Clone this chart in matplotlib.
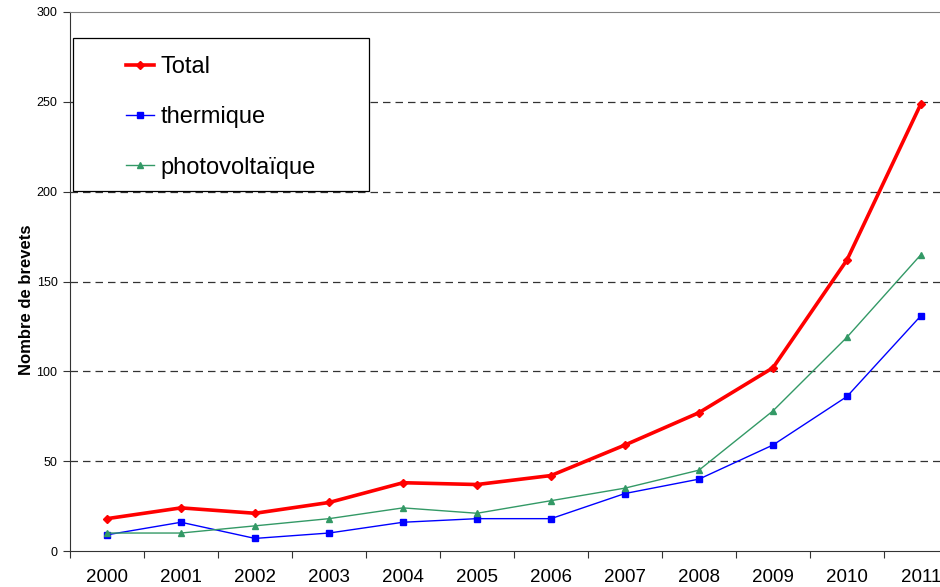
import matplotlib.pyplot as plt
from matplotlib.patches import Rectangle
import numpy as np

plt.rcParams['font.family'] = ['Liberation Sans', 'DejaVu Sans']

# data
years = ['2000', '2001', '2002', '2003', '2004', '2005',
         '2006', '2007', '2008', '2009', '2010', '2011']
total = [18, 24, 21, 27, 38, 37, 42, 59, 77, 102, 162, 249]
thermique = [9, 16, 7, 10, 16, 18, 18, 32, 40, 59, 86, 131]
photovoltaique = [10, 10, 14, 18, 24, 21, 28, 35, 45, 78, 119, 165]

W, H = 940, 587
fig = plt.figure(figsize=(W / 100, H / 100), dpi=100)
# plot area runs past the right edge of the picture, as in the original
ax = fig.add_axes([70 / W, 36 / H, 888 / W, 539 / H])

x = np.arange(len(years))
ax.plot(x, total, color='#FF0000', lw=2.6, marker='D', ms=4.5, label='Total', zorder=4)
ax.plot(x, thermique, color='#0000FF', lw=1, marker='s', ms=4.5, label='thermique', zorder=3)
ax.plot(x, photovoltaique, color='#339966', lw=1, marker='^', ms=4.5,
        label='photovoltaïque', zorder=3)

ax.set_xlim(-0.5, len(years) - 0.5)
ax.set_ylim(0, 300)

# tick marks between categories, labels at centres
ax.set_xticks(np.arange(len(years) + 1) - 0.5)
ax.set_xticklabels([])
ax.set_xticks(x, minor=True)
ax.set_xticklabels(years, minor=True, fontsize=13.5)
ax.tick_params(axis='x', which='major', direction='out', length=5, color='#333333')
ax.tick_params(axis='x', which='minor', length=0, pad=13)

ax.set_yticks(range(0, 301, 50))
ax.tick_params(axis='y', direction='out', length=5, labelsize=9, color='#333333', pad=4)
ax.set_ylabel('Nombre de brevets', fontsize=12, fontweight='bold')
ax.yaxis.set_label_coords(-0.04, 0.466)

for v in range(50, 300, 50):
    ax.axhline(v, color='#333333', lw=0.9, ls=(0, (6, 4)), zorder=1)

ax.spines['right'].set_visible(False)
ax.spines['top'].set_color('#808080')
ax.spines['left'].set_color('#333333')
ax.spines['bottom'].set_color('#333333')

# legend with its own box
fig.patches.append(Rectangle((73 / W, 1 - 191 / H), 296 / W, 153 / H,
                             transform=fig.transFigure, fill=True, facecolor='white',
                             edgecolor='black', lw=0.9, zorder=5))
leg = fig.legend(loc='upper left', bbox_to_anchor=(126 / W, 1 - 56 / H),
                 frameon=False, fontsize=17, borderpad=0, borderaxespad=0,
                 handlelength=1.2, handletextpad=0.25, labelspacing=1.2)
leg.set_zorder(6)

fig.savefig('out.png', dpi=100)
